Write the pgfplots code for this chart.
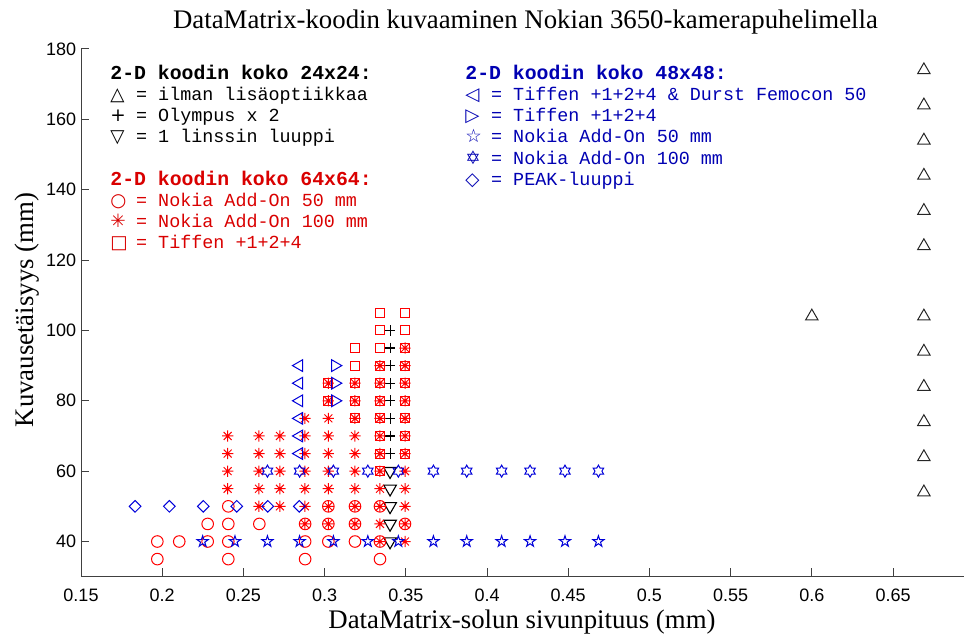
\documentclass[border=0pt]{standalone}
\usepackage{pgfplots}
\pgfplotsset{compat=1.18}
\usepackage{fontspec}
\setmainfont{Liberation Serif}
\setsansfont{Liberation Sans}
\setmonofont{Liberation Mono}
\newfontfamily\sym{DejaVu Sans}

\definecolor{mred}{rgb}{1,0,0}
\definecolor{mblue}{rgb}{0,0,0.85}
\definecolor{tred}{rgb}{0.85,0,0}
\definecolor{tblue}{rgb}{0,0,0.7}

\pgfdeclareplotmark{mast}{%
  \pgfpathmoveto{\pgfqpoint{-\pgfplotmarksize}{0pt}}%
  \pgfpathlineto{\pgfqpoint{\pgfplotmarksize}{0pt}}%
  \pgfpathmoveto{\pgfqpoint{0pt}{-\pgfplotmarksize}}%
  \pgfpathlineto{\pgfqpoint{0pt}{\pgfplotmarksize}}%
  \pgfpathmoveto{\pgfqpoint{-0.7071\pgfplotmarksize}{-0.7071\pgfplotmarksize}}%
  \pgfpathlineto{\pgfqpoint{0.7071\pgfplotmarksize}{0.7071\pgfplotmarksize}}%
  \pgfpathmoveto{\pgfqpoint{-0.7071\pgfplotmarksize}{0.7071\pgfplotmarksize}}%
  \pgfpathlineto{\pgfqpoint{0.7071\pgfplotmarksize}{-0.7071\pgfplotmarksize}}%
  \pgfusepathqstroke}

\pgfdeclareplotmark{pstar}{%
  \pgfpathmoveto{\pgfpointpolar{90}{1*\pgfplotmarksize}}%
  \pgfpathlineto{\pgfpointpolar{126}{0.382*\pgfplotmarksize}}%
  \pgfpathlineto{\pgfpointpolar{162}{1*\pgfplotmarksize}}%
  \pgfpathlineto{\pgfpointpolar{198}{0.382*\pgfplotmarksize}}%
  \pgfpathlineto{\pgfpointpolar{234}{1*\pgfplotmarksize}}%
  \pgfpathlineto{\pgfpointpolar{270}{0.382*\pgfplotmarksize}}%
  \pgfpathlineto{\pgfpointpolar{306}{1*\pgfplotmarksize}}%
  \pgfpathlineto{\pgfpointpolar{342}{0.382*\pgfplotmarksize}}%
  \pgfpathlineto{\pgfpointpolar{18}{1*\pgfplotmarksize}}%
  \pgfpathlineto{\pgfpointpolar{54}{0.382*\pgfplotmarksize}}%
  \pgfpathclose\pgfusepathqstroke}

\pgfdeclareplotmark{hstar}{%
  \pgfpathmoveto{\pgfpointpolar{90}{1*\pgfplotmarksize}}%
  \pgfpathlineto{\pgfpointpolar{120}{0.5774*\pgfplotmarksize}}%
  \pgfpathlineto{\pgfpointpolar{150}{1*\pgfplotmarksize}}%
  \pgfpathlineto{\pgfpointpolar{180}{0.5774*\pgfplotmarksize}}%
  \pgfpathlineto{\pgfpointpolar{210}{1*\pgfplotmarksize}}%
  \pgfpathlineto{\pgfpointpolar{240}{0.5774*\pgfplotmarksize}}%
  \pgfpathlineto{\pgfpointpolar{270}{1*\pgfplotmarksize}}%
  \pgfpathlineto{\pgfpointpolar{300}{0.5774*\pgfplotmarksize}}%
  \pgfpathlineto{\pgfpointpolar{330}{1*\pgfplotmarksize}}%
  \pgfpathlineto{\pgfpointpolar{0}{0.5774*\pgfplotmarksize}}%
  \pgfpathlineto{\pgfpointpolar{30}{1*\pgfplotmarksize}}%
  \pgfpathlineto{\pgfpointpolar{60}{0.5774*\pgfplotmarksize}}%
  \pgfpathclose\pgfusepathqstroke}

\newcommand{\sy}[1]{\makebox[0.8em][l]{\sym #1}}
\newcommand{\lfont}{\ttfamily\fontsize{9.2}{10.6}\selectfont}
\newcommand{\hfont}{\ttfamily\bfseries\fontsize{9.9}{10.6}\selectfont}

\begin{document}
\begin{tikzpicture}
\useasboundingbox (0,0) rectangle (482pt,318pt);
\begin{axis}[
  at={(40.5pt,29.65pt)}, anchor=south west,
  scale only axis, width=441.5pt, height=263.85pt,
  xmin=0.15, xmax=0.6937, ymin=30, ymax=180,
  axis x line*=bottom, axis y line*=left,
  axis line style={-, black!75, line width=0.5pt},
  every outer x axis line/.append style={-},
  every outer y axis line/.append style={-},
  tick align=inside, major tick length=4.2pt,
  tick style={black!75, line width=0.5pt},
  xtick={0.15,0.2,0.25,0.3,0.35,0.4,0.45,0.5,0.55,0.6,0.65},
  ytick={40,60,80,100,120,140,160,180},
  /pgf/number format/assume math mode=true,
  ticklabel style={font=\sffamily\fontsize{9}{10}\selectfont},
  xticklabel style={/pgf/number format/fixed, /pgf/number format/precision=2, inner sep=0pt, yshift=-5.8pt},
  yticklabel style={inner sep=0pt, xshift=-2.2pt},
  xlabel={DataMatrix-solun sivunpituus (mm)},
  xlabel style={at={(axis description cs:0.4994,-0.0978)}, anchor=base, inner sep=0pt, font=\fontsize{13.4}{16}\selectfont},
  ylabel={Kuvausetäisyys (mm)},
  ylabel style={at={(axis description cs:-0.054,0.5054)}, anchor=base, inner sep=0pt, font=\fontsize{13.4}{16}\selectfont},
]
% 24x24: triangle up (ilman lisaoptiikkaa)
\addplot[only marks, black!85, mark=triangle, mark size=3.6pt, mark options={line width=0.5pt}] coordinates {
(0.669,54) (0.669,64) (0.669,74) (0.669,84) (0.669,94) (0.669,104)
(0.669,124) (0.669,134) (0.669,144) (0.669,154) (0.669,164) (0.669,174)
(0.600,104)
};
% 24x24: plus (Olympus x 2)
\addplot[only marks, black, mark=+, mark size=2.7pt, mark options={line width=0.55pt}] coordinates {
(0.3403,65) (0.3403,70) (0.3403,75) (0.3403,80) (0.3403,85) (0.3403,90) (0.3403,95) (0.3403,100)
};
% 24x24: triangle down (1 linssin luuppi)
\addplot[only marks, black, mark=triangle, mark size=3.65pt, mark options={rotate=180, line width=0.55pt}] coordinates {
(0.3403,40) (0.3403,45) (0.3403,50) (0.3403,55) (0.3403,60)
};
% 64x64: circles (Nokia Add-On 50 mm)
\addplot[only marks, mred, mark=o, mark size=2.9pt, mark options={line width=0.5pt}] coordinates {
(0.197,35) (0.197,40) (0.2105,40) (0.228,40) (0.228,45)
(0.2407,35) (0.2407,40) (0.2407,45) (0.2407,50) (0.2598,45)
(0.288,35) (0.288,40) (0.288,45)
(0.3023,40) (0.3023,45) (0.3023,50)
(0.3187,40) (0.3187,45) (0.3187,50)
(0.3341,35) (0.3341,40) (0.3341,50)
(0.3495,45)
};
% 64x64: asterisks (Nokia Add-On 100 mm)
\addplot[only marks, mred, mark=mast, mark size=2.8pt, mark options={line width=0.5pt}] coordinates {
(0.2403,55) (0.2403,60) (0.2403,65) (0.2403,70)
(0.2596,50) (0.2596,55) (0.2596,60) (0.2596,65) (0.2596,70)
(0.2725,50) (0.2725,55) (0.2725,60) (0.2725,65) (0.2725,70)
(0.2879,45) (0.2879,50) (0.2879,55) (0.2879,60) (0.2879,65) (0.2879,70) (0.2879,75)
(0.3023,45) (0.3023,50) (0.3023,55) (0.3023,60) (0.3023,65) (0.3023,70) (0.3023,75) (0.3023,80) (0.3023,85)
(0.3187,45) (0.3187,50) (0.3187,55) (0.3187,60) (0.3187,65) (0.3187,70) (0.3187,75) (0.3187,80) (0.3187,85)
(0.3341,40) (0.3341,45) (0.3341,50) (0.3341,55) (0.3341,60) (0.3341,65) (0.3341,70) (0.3341,75) (0.3341,80) (0.3341,85) (0.3341,90)
(0.3495,40) (0.3495,45) (0.3495,50) (0.3495,55) (0.3495,60) (0.3495,65) (0.3495,70) (0.3495,75) (0.3495,80) (0.3495,85) (0.3495,90) (0.3495,95)
};
% 64x64: squares (Tiffen +1+2+4)
\addplot[only marks, mred, mark=square, mark size=2.25pt, mark options={line width=0.5pt}] coordinates {
(0.3023,80) (0.3023,85)
(0.3187,75) (0.3187,80) (0.3187,85) (0.3187,90) (0.3187,95)
(0.3341,60) (0.3341,65) (0.3341,70) (0.3341,75) (0.3341,80) (0.3341,85) (0.3341,90) (0.3341,95) (0.3341,100) (0.3341,105)
(0.3495,65) (0.3495,70) (0.3495,75) (0.3495,80) (0.3495,85) (0.3495,90) (0.3495,95) (0.3495,100) (0.3495,105)
};
% 48x48: left triangles (Tiffen & Durst)
\addplot[only marks, mblue, mark=triangle, mark size=3.4pt, mark options={rotate=90, line width=0.5pt}] coordinates {
(0.2844,65) (0.2844,70) (0.2844,75) (0.2844,80) (0.2844,85) (0.2844,90)
};
% 48x48: right triangles (Tiffen)
\addplot[only marks, mblue, mark=triangle, mark size=3.4pt, mark options={rotate=-90, line width=0.5pt}] coordinates {
(0.3064,80) (0.3064,85) (0.3064,90)
};
% 48x48: pentagrams (Nokia Add-On 50 mm)
\addplot[only marks, mblue, mark=pstar, mark size=2.9pt, mark options={line width=0.5pt}] coordinates {
(0.2249,40) (0.2448,40) (0.2648,40) (0.2846,40) (0.3054,40) (0.3266,40) (0.3454,40)
(0.3670,40) (0.3875,40) (0.4090,40) (0.4265,40) (0.4480,40) (0.4686,40)
};
% 48x48: hexagrams (Nokia Add-On 100 mm)
\addplot[only marks, mblue, mark=hstar, mark size=3.0pt, mark options={line width=0.5pt}] coordinates {
(0.2648,60) (0.2846,60) (0.3054,60) (0.3266,60) (0.3454,60)
(0.3670,60) (0.3875,60) (0.4090,60) (0.4265,60) (0.4480,60) (0.4686,60)
};
% 48x48: diamonds (PEAK-luuppi)
\addplot[only marks, mblue, mark=square, mark size=2.05pt, mark options={rotate=45, line width=0.5pt}] coordinates {
(0.1833,50) (0.2044,50) (0.2253,50) (0.2459,50) (0.2650,50) (0.2844,50)
};
\end{axis}

% title
\node[anchor=base, inner sep=0pt, font=\fontsize{13.4}{16}\selectfont] at (262.75pt,303.5pt) {DataMatrix-koodin kuvaaminen Nokian 3650-kamerapuhelimella};

% annotation text
\node[anchor=base west, inner sep=0pt, text=black, font=\hfont] at (55pt,278.3pt) {2-D koodin koko 24x24:};
\node[anchor=base west, inner sep=0pt, text=black, font=\lfont] at (55pt,267.7pt) {\sy{△} = ilman lisäoptiikkaa};
\node[anchor=base west, inner sep=0pt, text=black, font=\lfont] at (55pt,257.1pt) {\sy{+} = Olympus x 2};
\node[anchor=base west, inner sep=0pt, text=black, font=\lfont] at (55pt,246.5pt) {\sy{▽} = 1 linssin luuppi};

\node[anchor=base west, inner sep=0pt, text=tred, font=\hfont] at (55pt,225.3pt) {2-D koodin koko 64x64:};
\node[anchor=base west, inner sep=0pt, text=tred, font=\lfont] at (55pt,214.7pt) {\sy{○} = Nokia Add-On 50 mm};
\node[anchor=base west, inner sep=0pt, text=tred, font=\lfont] at (55pt,204.1pt) {\sy{✳} = Nokia Add-On 100 mm};
\node[anchor=base west, inner sep=0pt, text=tred, font=\lfont] at (55pt,193.5pt) {\sy{□} = Tiffen +1+2+4};

\node[anchor=base west, inner sep=0pt, text=tblue, font=\hfont] at (232.5pt,278.3pt) {2-D koodin koko 48x48:};
\node[anchor=base west, inner sep=0pt, text=tblue, font=\lfont] at (232.5pt,267.7pt) {\sy{◁} = Tiffen +1+2+4 \& Durst Femocon 50};
\node[anchor=base west, inner sep=0pt, text=tblue, font=\lfont] at (232.5pt,257.1pt) {\sy{▷} = Tiffen +1+2+4};
\node[anchor=base west, inner sep=0pt, text=tblue, font=\lfont] at (232.5pt,246.5pt) {\sy{☆} = Nokia Add-On 50 mm};
\node[anchor=base west, inner sep=0pt, text=tblue, font=\lfont] at (232.5pt,235.9pt) {\sy{✡} = Nokia Add-On 100 mm};
\node[anchor=base west, inner sep=0pt, text=tblue, font=\lfont] at (232.5pt,225.3pt) {\sy{◇} = PEAK-luuppi};
\end{tikzpicture}
\end{document}
